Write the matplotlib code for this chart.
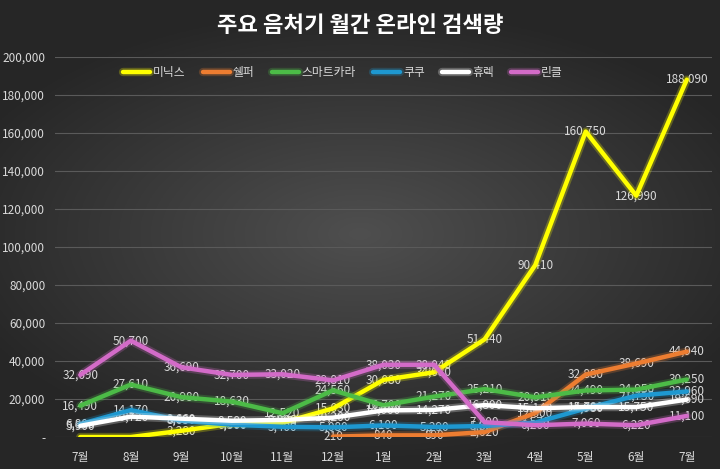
import numpy as np
import matplotlib
matplotlib.use('Agg')
import matplotlib.pyplot as plt
import matplotlib.patheffects as pe
from matplotlib.ticker import FuncFormatter

plt.rcParams['font.family'] = ['Noto Sans CJK KR', 'DejaVu Sans']

months = ['7월', '8월', '9월', '10월', '11월', '12월', '1월', '2월', '3월', '4월', '5월', '6월', '7월']

minix = [0, 0, 3280, 7000, 7500, 15030, 30080, 34080, 51440, 90410, 160750, 126990, 188090]
shelf = [None, None, None, None, None, 210, 840, 890, 2620, 12600, 32880, 38690, 44940]
smartcara = [16490, 27610, 20980, 18630, 12520, 24560, 16700, 21270, 25210, 20910, 24490, 24950, 30250]
cuckoo = [6800, 14170, 8630, 6500, 5400, 5080, 6100, 5290, 5820, 7570, 14980, 21750, 23960]
hurom = [5900, 10720, 9660, 8580, 9000, 10200, 14000, 14270, 16800, 15140, 15780, 15750, 19690]
rinkle = [32690, 50700, 36690, 32700, 33020, 29810, 38030, 38040, 7800, 6200, 7060, 6220, 11100]

names = ['미닉스', '쉘퍼', '스마트카라', '쿠쿠', '휴렉', '린클']
series = [minix, shelf, smartcara, cuckoo, hurom, rinkle]
colors = ['#FFFF00', '#ED7D31', '#4CBB47', '#1E98D0', '#FFFFFF', '#D36BC8']


def fmt(v):
    return '-' if v == 0 else f'{int(v):,}'


fig = plt.figure(figsize=(7.2, 4.69), dpi=100)

# background gradient
bg = fig.add_axes([0, 0, 1, 1])
yy, xx = np.mgrid[-1:1:300j, -1:1:460j]
r = np.sqrt((xx * 0.9) ** 2 + (yy * 1.1) ** 2)
g = np.clip(0.31 - 0.15 * r, 0.15, 0.31)
bg.imshow(np.dstack([g, g, g]), aspect='auto', extent=[0, 1, 0, 1])
bg.axis('off')

ax = fig.add_axes([0.0764, 0.0682, 0.9126, 0.8103])
ax.patch.set_alpha(0)
x = np.arange(len(months))

for name, vals, c in zip(names, series, colors):
    xs = [i for i, v in enumerate(vals) if v is not None]
    ys = [v for v in vals if v is not None]
    ax.plot(xs, ys, color=c, lw=3.2, label=name, solid_capstyle='round',
            path_effects=[pe.Stroke(linewidth=6, foreground=c, alpha=0.25), pe.Normal()])
    for xi, yi in zip(xs, ys):
        ax.text(xi, yi, fmt(yi), ha='center', va='center', fontsize=8.5,
                color='#d9d9d9', zorder=1)

ax.set_xlim(-0.5, len(months) - 0.5)
ax.set_ylim(0, 200000)
ax.set_yticks(np.arange(0, 200001, 20000))
ax.yaxis.set_major_formatter(FuncFormatter(lambda v, p: fmt(v)))
ax.set_xticks(x)
ax.set_xticklabels(months)
ax.tick_params(colors='#d9d9d9', labelsize=8.5, length=0)
ax.tick_params(axis='x', pad=10)
ax.tick_params(axis='y', pad=7)
ax.grid(axis='y', color='#5a5a5a', lw=0.8)
ax.set_axisbelow(True)
for s in ax.spines.values():
    s.set_visible(False)

leg = ax.legend(loc='center', bbox_to_anchor=(0.438, 0.958), ncol=6, frameon=False,
                fontsize=8.5, handlelength=2.3, columnspacing=1.45, handletextpad=0.25)
for t in leg.get_texts():
    t.set_color('#d9d9d9')

fig.text(0.5, 0.945, '주요 음처기 월간 온라인 검색량', ha='center', va='center',
         fontsize=16, fontweight='bold', color='white')

fig.savefig('out.png', dpi=100)
